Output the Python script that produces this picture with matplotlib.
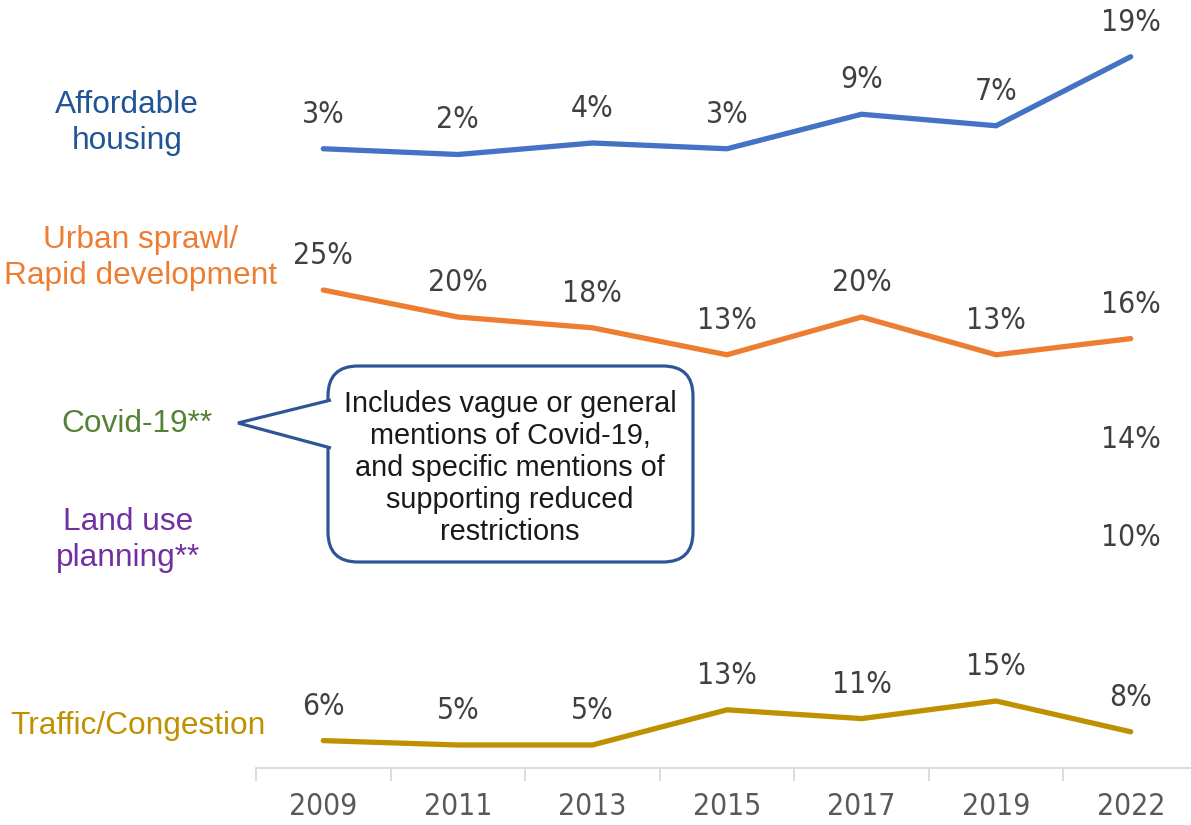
import numpy as np
import matplotlib.pyplot as plt
from matplotlib.patches import FancyBboxPatch, Polygon

years = ['2009', '2011', '2013', '2015', '2017', '2019', '2022']
affordable = [3, 2, 4, 3, 9, 7, 19]
sprawl = [25, 20, 18, 13, 20, 13, 16]
covid = [np.nan, np.nan, np.nan, np.nan, np.nan, np.nan, 14]
land_use = [np.nan, np.nan, np.nan, np.nan, np.nan, np.nan, 10]
traffic = [6, 5, 5, 13, 11, 15, 8]

W, H = 1191, 825
fig = plt.figure(figsize=(W / 100, H / 100), dpi=100)

num_font = ['DejaVu Sans']
lab_font = ['Liberation Sans', 'DejaVu Sans']
x = np.arange(len(years))
L, R = 256, 1198


def band(base, scale, top):
    # base = pixel row of 0%, scale = pixels per percentage point
    ax = fig.add_axes([L / W, (H - base) / H, (R - L) / W, scale * top / H])
    ax.set_xlim(-0.5, len(years) - 0.5)
    ax.set_ylim(0, top)
    ax.axis('off')
    return ax


# (values, colour, zero row, px per %, ymax)
bands = [
    (affordable, '#4472C4', 166, 5.75, 25),
    (sprawl, '#ED7D31', 425, 5.4, 30),
    (covid, '#70AD47', 544, 5.0, 20),
    (land_use, '#7030A0', 622, 5.0, 20),
    (traffic, '#BF9000', 767, 4.4, 20),
]

for vals, col, base, scale, top in bands:
    ax = band(base, scale, top)
    ax.plot(x, vals, color=col, lw=3.8, solid_capstyle='round',
            solid_joinstyle='miter', clip_on=False)
    for xi, v in zip(x, vals):
        if np.isnan(v):
            continue
        ax.annotate(f'{v:.0f}%', (xi, v), xytext=(0, 26),
                    textcoords='offset pixels', ha='center', va='baseline',
                    fontsize=21.5, color='#404040', family=num_font,
                    fontstretch='condensed', annotation_clip=False)

# x axis
xax = fig.add_axes([L / W, (H - 768) / H, (R - L) / W, 0.01])
xax.set_xlim(-0.5, len(years) - 0.5)
xax.set_ylim(0, 1)
for s in ['top', 'left', 'right']:
    xax.spines[s].set_visible(False)
xax.spines['bottom'].set_color('#D9D9D9')
xax.spines['bottom'].set_linewidth(1.3)
xax.patch.set_alpha(0)
xax.set_yticks([])
xax.set_xticks(x)
xax.set_xticklabels(years, fontsize=21.5, color='#595959', family=num_font,
                    fontstretch='condensed')
xax.set_xticks(np.arange(-0.5, len(years)), minor=True)
xax.tick_params(axis='x', which='major', length=0, pad=17)
xax.tick_params(axis='x', which='minor', length=9, width=1.3,
                color='#D9D9D9', direction='out')

# overlay in pixel units for the side labels and the callout
ov = fig.add_axes([0, 0, 1, 1], zorder=5)
ov.set_xlim(0, W)
ov.set_ylim(H, 0)
ov.axis('off')

labels = [
    ('Affordable\nhousing', '#1F5597', 127, 123),
    ('Urban sprawl/\nRapid development', '#ED7D31', 141, 258),
    ('Covid-19**', '#548235', 137, 424),
    ('Land use\nplanning**', '#7030A0', 128, 540),
    ('Traffic/Congestion', '#BF9000', 138, 726),
]
for txt, col, lx, ly in labels:
    ov.text(lx, ly, txt, ha='center', va='center', fontsize=22.8,
            color=col, family=lab_font, linespacing=1.25)

edge = '#2F5597'
box = FancyBboxPatch((328, 366), 365, 196,
                     boxstyle='round,pad=0,rounding_size=30',
                     fc='white', ec=edge, lw=2.3)
ov.add_patch(box)
tail = Polygon([(331, 400), (238, 423), (331, 448)], closed=False,
               fc='white', ec=edge, lw=2.3, joinstyle='miter')
ov.add_patch(tail)
ov.text(510, 468, 'Includes vague or general\nmentions of Covid-19,\n'
        'and specific mentions of\nsupporting reduced\nrestrictions',
        ha='center', va='center', fontsize=20.8, color='#1A1A1A',
        family=lab_font, linespacing=1.19)

fig.savefig('out.png', dpi=100)
